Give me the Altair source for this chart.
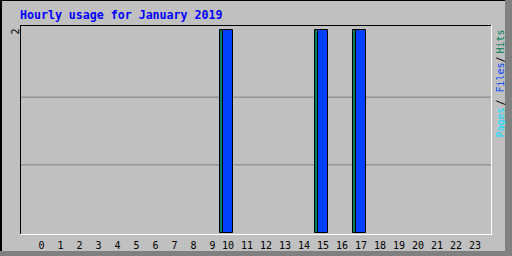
import altair as alt
import pandas as pd

# ---- data ----
hours = list(range(24))
hits = [0, 0, 0, 0, 0, 0, 0, 0, 0, 0, 2, 0, 0, 0, 0, 2, 0, 2, 0, 0, 0, 0, 0, 0]
files = [0, 0, 0, 0, 0, 0, 0, 0, 0, 0, 2, 0, 0, 0, 0, 2, 0, 2, 0, 0, 0, 0, 0, 0]
pages = [0] * 24
hour_labels = [str(h) for h in hours]
grid_levels = [2 / 3, 4 / 3]
title_text = "Hourly usage for January 2019"
y_max_label = "2"
legend_parts = ["Pages", "/", "Files", "/", "Hits"]

df = pd.DataFrame({"hour": hours, "hits": hits, "files": files,
                   "pages": pages, "label": hour_labels})
grid_df = pd.DataFrame({"level": grid_levels})
one = pd.DataFrame({"k": [0]})

W, H = 512, 256
SLOT = 19.0
X0 = 29.5
KY = 101.5
Y0 = 232.5
xscale = alt.Scale(domain=[-X0 / SLOT, (W - X0) / SLOT], nice=False, zero=False)
yscale = alt.Scale(domain=[(Y0 - H) / KY, Y0 / KY], nice=False, zero=False)

MONO = "DejaVu Sans Mono"
BG = "#C0C0C0"
DK = "#808080"


def deco_rect(x, x2, y, y2, color):
    return alt.Chart(one).mark_rect(fill=color, strokeWidth=0).encode(
        x=alt.value(x), x2=alt.value(x2), y=alt.value(y), y2=alt.value(y2))


def deco_rule(x, x2, y, y2, color):
    return alt.Chart(one).mark_rule(color=color, strokeWidth=1).encode(
        x=alt.value(x), x2=alt.value(x2), y=alt.value(y), y2=alt.value(y2))


def deco_text(txt, x, y, color, size, angle=0, bold=False, align="left", baseline="alphabetic"):
    kw = dict(font=MONO, fontSize=size, align=align, baseline=baseline, color=color)
    if angle:
        kw["angle"] = angle
    if bold:
        kw["fontWeight"] = "bold"
    return alt.Chart(one).mark_text(**kw).encode(
        x=alt.value(x), y=alt.value(y), text=alt.value(txt))


# outer bevel
layers = [
    deco_rect(505, 512, 0, 256, DK),
    deco_rect(0, 512, 251, 256, DK),
    deco_rect(0, 2, 0, 251, "black"),
    deco_rect(0, 505, 0, 1, "black"),
]

# grid lines
grid = alt.Chart(grid_df).mark_rule(color=DK, strokeWidth=1).encode(
    y=alt.Y("level:Q", scale=yscale, axis=None),
    x=alt.value(21), x2=alt.value(491))
layers.append(grid)

# plot frame
layers += [
    deco_rule(20, 491, 25.5, 25.5, "black"),
    deco_rule(20.5, 20.5, 25, 234, "black"),
    deco_rule(20, 492, 234.5, 234.5, "white"),
    deco_rule(491.5, 491.5, 25, 235, "white"),
]


def bars(field, off, color):
    return alt.Chart(df).transform_filter(f"datum.{field} > 0").transform_calculate(
        xa=f"datum.hour + {off}/{SLOT}",
        xb=f"datum.hour + {off + 10}/{SLOT}",
        base0="0",
    ).mark_rect(fill=color, stroke="black", strokeWidth=1).encode(
        x=alt.X("xa:Q", scale=xscale, axis=None),
        x2="xb:Q",
        y=alt.Y(f"{field}:Q", scale=yscale, axis=None),
        y2="base0:Q",
    )


layers += [bars("hits", 0, "#00805C"), bars("files", 3, "#0040FF"), bars("pages", 6, "#00E0FF")]

# hour labels
labels = alt.Chart(df).transform_calculate(
    lx=f"datum.hour + (datum.hour < 10 ? 12.0 : 8.5)/{SLOT}"
).mark_text(font=MONO, fontSize=10, align="center", baseline="alphabetic", color="black").encode(
    x=alt.X("lx:Q", scale=xscale, axis=None),
    y=alt.value(249),
    text="label:N",
)
layers.append(labels)

# title
layers.append(deco_text(title_text, 20, 19, "#0000FF", 11.6, bold=True))
# y max label
layers.append(deco_text(y_max_label, 18.5, 34.5, "black", 10, angle=270))
# legend
legend_colors = ["#00E0FF", "black", "#0040FF", "black", "#00805C"]
legend_starts = [137.5, 105.5, 92.5, 62.5, 53.5]
for txt, col, ys in zip(legend_parts, legend_colors, legend_starts):
    layers.append(deco_text(txt, 504, ys, col, 10, angle=270))

chart = alt.layer(*layers).properties(
    width=W, height=H, background=BG, padding=0,
    autosize=alt.AutoSizeParams(type="none"),
).configure_view(stroke=None)

chart.save("out.html", embed_options={"renderer": "svg", "actions": False})
